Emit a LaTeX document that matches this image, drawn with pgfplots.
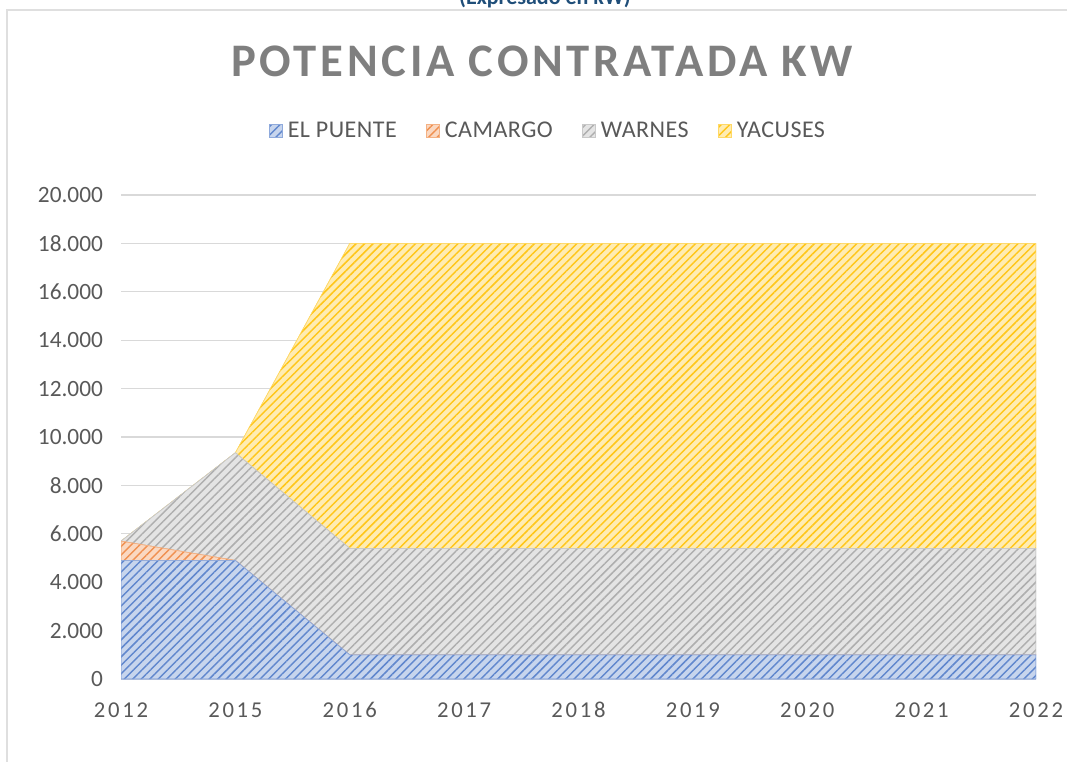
\documentclass[border=0pt]{standalone}
\usepackage{pgfplots}
\pgfplotsset{compat=1.18}
\usepackage{fontspec}
\setmainfont{Carlito}
\usetikzlibrary{patterns,patterns.meta}
\definecolor{cblue}{HTML}{4472C4}
\definecolor{corange}{HTML}{ED7D31}
\definecolor{cgray}{HTML}{A5A5A5}
\definecolor{cyellow}{HTML}{FFC000}
\definecolor{gridc}{HTML}{D9D9D9}
\definecolor{txt}{HTML}{595959}
\definecolor{titc}{HTML}{7F7F7F}
\definecolor{topblue}{HTML}{1F4E79}
\begin{document}
\begin{tikzpicture}
\useasboundingbox (0,0) rectangle (800.25pt,570.75pt);
\draw[color=gray!25, line width=1.5pt] (5.25pt,-5pt) -- (5.25pt,563.25pt) -- (810pt,563.25pt);
\node[anchor=base, font=\fontsize{16.5pt}{18pt}\selectfont\bfseries, text=topblue] at (408.75pt,567pt) {(Expresado en kW)};
\node[font=\fontsize{35pt}{40pt}\selectfont\bfseries\addfontfeatures{LetterSpace=8}, text=titc] at (406.5pt,525pt) {POTENCIA CONTRATADA KW};
\begin{axis}[
  at={(90.75pt,61.5pt)}, anchor=south west,
  scale only axis, width=686.25pt, height=363pt,
  stack plots=y,
  xmin=0, xmax=8, ymin=0, ymax=20000,
  xtick={0,1,2,3,4,5,6,7,8},
  xticklabels={2012,2015,2016,2017,2018,2019,2020,2021,2022},
  ytick={0,2000,4000,6000,8000,10000,12000,14000,16000,18000,20000},
  scaled y ticks=false,
  yticklabel={\pgfmathprintnumber[fixed,1000 sep={.},assume math mode=true]{\tick}},
  ymajorgrids, grid style={gridc, line width=0.9pt},
  axis line style={draw=none},
  tick style={draw=none},
  ticklabel style={font=\fontsize{17.5pt}{20pt}\selectfont, text=txt},
  xticklabel style={font=\fontsize{17pt}{20pt}\selectfont\addfontfeatures{LetterSpace=12}, anchor=north, text height=11pt, text depth=0pt, yshift=-14pt},
  yticklabel style={xshift=-10pt},
  legend columns=4,
  legend style={at={(0.467,1.132)}, anchor=center, draw=none, fill=none,
    font=\fontsize{18pt}{20pt}\selectfont\addfontfeatures{LetterSpace=2}, text=txt,
    /tikz/every odd column/.append style={column sep=2pt},
    /tikz/every even column/.append style={column sep=20pt}},
  legend image code/.code={\fill[#1] (0pt,-4.9pt) rectangle (9.75pt,4.9pt);},
]
\addplot[draw=cblue!60, fill=cblue!30, postaction={pattern={Lines[angle=45,distance=4.5pt,line width=1.1pt]}, pattern color=cblue!85}] coordinates {(0,4900) (1,4900) (2,1000) (3,1000) (4,1000) (5,1000) (6,1000) (7,1000) (8,1000)} \closedcycle;
\addlegendentry{EL PUENTE}
\addplot[draw=corange!60, fill=corange!30, postaction={pattern={Lines[angle=45,distance=4.5pt,line width=1.1pt]}, pattern color=corange!85}] coordinates {(0,800) (1,0) (2,0) (3,0) (4,0) (5,0) (6,0) (7,0) (8,0)} \closedcycle;
\addlegendentry{CAMARGO}
\addplot[draw=cgray!60, fill=cgray!30, postaction={pattern={Lines[angle=45,distance=4.5pt,line width=1.1pt]}, pattern color=cgray!90}] coordinates {(0,0) (1,4450) (2,4400) (3,4400) (4,4400) (5,4400) (6,4400) (7,4400) (8,4400)} \closedcycle;
\addlegendentry{WARNES}
\addplot[draw=cyellow!60, fill=cyellow!30, postaction={pattern={Lines[angle=45,distance=4.5pt,line width=1.1pt]}, pattern color=cyellow!90}] coordinates {(0,0) (1,0) (2,12600) (3,12600) (4,12600) (5,12600) (6,12600) (7,12600) (8,12600)} \closedcycle;
\addlegendentry{YACUSES}
\end{axis}
\end{tikzpicture}
\end{document}
